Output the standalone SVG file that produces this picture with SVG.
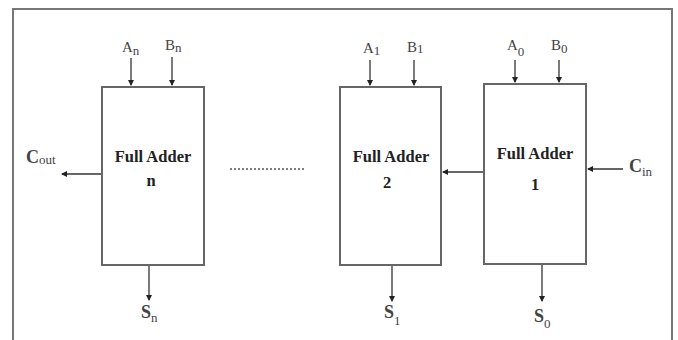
<svg xmlns="http://www.w3.org/2000/svg" width="678" height="340" viewBox="0 0 678 340">
<defs>
<marker id="ah" markerWidth="6" markerHeight="6" refX="5" refY="3" orient="auto" markerUnits="userSpaceOnUse">
<path d="M0,0 L6,3 L0,6 Z" fill="#222"/>
</marker>
<style>
.box{fill:#fff;stroke:#666;stroke-width:2}
.wire{stroke:#333;stroke-width:1.3;fill:none;marker-end:url(#ah)}
.fa{font-family:"Liberation Serif","Times New Roman",serif;font-weight:bold;font-size:16.5px;fill:#222;text-anchor:middle}
.in{font-family:"Liberation Serif","Times New Roman",serif;font-size:15px;fill:#444}
.sub{font-size:13px}
.out{font-family:"Liberation Serif","Times New Roman",serif;font-weight:bold;font-size:18px;fill:#444}
.osub{font-size:13px;font-weight:normal}
</style>
</defs>
<rect width="678" height="340" fill="#fff"/>
<path d="M13,340 V9 H672 V340" fill="none" stroke="#777" stroke-width="2"/>
<g id="fa-n">
<rect class="box" x="102" y="87" width="102" height="178"/>
<text class="fa" x="153" y="162">Full Adder</text>
<text class="fa" x="151" y="186">n</text>
</g>
<g id="fa-2">
<rect class="box" x="340" y="87" width="101" height="178"/>
<text class="fa" x="391" y="162">Full Adder</text>
<text class="fa" x="387" y="188">2</text>
</g>
<g id="fa-1">
<rect class="box" x="484" y="84" width="102" height="180"/>
<text class="fa" x="535" y="159">Full Adder</text>
<text class="fa" x="535" y="190">1</text>
</g>
<g id="labels">
<text class="in" x="122" y="52">A<tspan class="sub" dy="3">n</tspan></text>
<text class="in" x="165" y="50">B<tspan class="sub" dy="2">n</tspan></text>
<text class="in" x="363" y="53">A<tspan class="sub" dy="2">1</tspan></text>
<text class="in" x="407" y="52">B<tspan class="sub" dy="1">1</tspan></text>
<text class="in" x="507" y="50">A<tspan class="sub" dy="6">0</tspan></text>
<text class="in" x="551" y="50">B<tspan class="sub" dy="3">0</tspan></text>
<text class="out" x="26" y="163">C<tspan class="osub" dy="1">out</tspan></text>
<text class="out" x="629" y="172">C<tspan class="osub" dy="4">in</tspan></text>
<text class="out" x="141" y="318">S<tspan class="osub" dy="4">n</tspan></text>
<text class="out" x="384" y="318">S<tspan class="osub" dy="7">1</tspan></text>
<text class="out" x="534" y="322">S<tspan class="osub" dy="6">0</tspan></text>
</g>
<g id="connectors">
<line class="wire" x1="131" y1="58" x2="131" y2="85"/>
<line class="wire" x1="172" y1="57" x2="172" y2="85"/>
<line class="wire" x1="370" y1="60" x2="370" y2="85"/>
<line class="wire" x1="414" y1="60" x2="414" y2="85"/>
<line class="wire" x1="515" y1="60" x2="515" y2="82"/>
<line class="wire" x1="559" y1="60" x2="559" y2="82"/>
<line class="wire" x1="101" y1="174" x2="62" y2="174"/>
<line class="wire" x1="483" y1="172" x2="443" y2="172"/>
<line class="wire" x1="623" y1="169" x2="588" y2="169"/>
<line class="wire" x1="149" y1="266" x2="149" y2="300"/>
<line class="wire" x1="392" y1="266" x2="392" y2="301"/>
<line class="wire" x1="542" y1="265" x2="542" y2="301"/>
<line x1="230" y1="169" x2="305" y2="169" stroke="#555" stroke-width="1.5" stroke-dasharray="2,2"/>
</g>
</svg>
